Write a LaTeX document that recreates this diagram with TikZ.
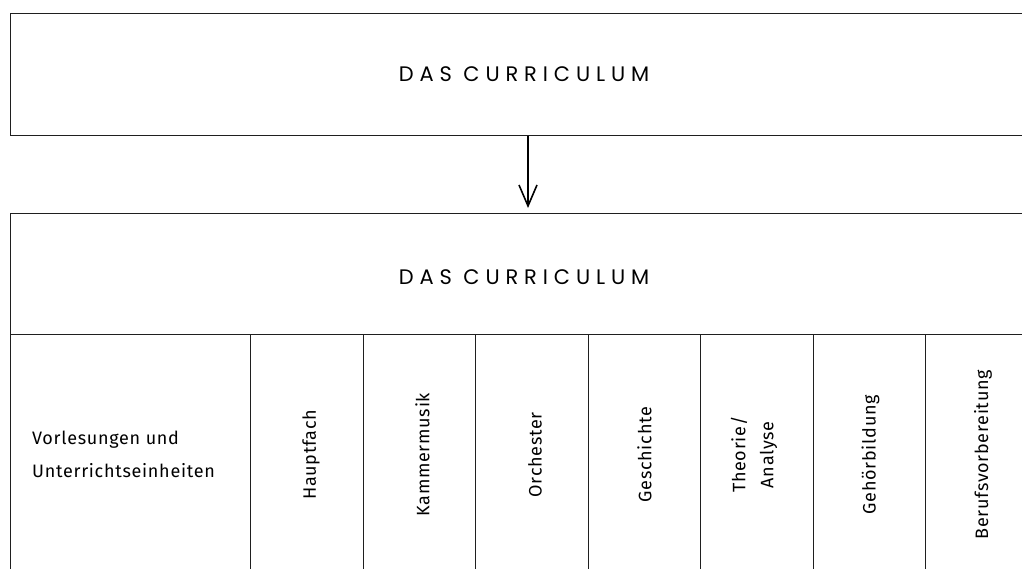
\documentclass[tikz,border=0pt]{standalone}
\usepackage{fontspec}
\usetikzlibrary{arrows.meta,calc}
\newfontfamily\titlefont{Poppins}[LetterSpace=28]
\newfontfamily\bodyfont{Fira Sans}[LetterSpace=4]
\tikzset{
  frame/.style={draw=black!88, line width=1.4pt, rectangle, inner sep=0pt, anchor=north west},
  titletext/.style={font=\titlefont\fontsize{21}{21}\selectfont},
  labeltext/.style={font=\bodyfont\fontsize{18}{18}\selectfont, inner sep=0pt},
  sidetext/.style={font=\bodyfont\fontsize{18}{33}\selectfont, inner sep=0pt, align=left, anchor=west},
  arr/.style={-{Straight Barb[length=21pt,width=18pt,line width=1.6pt]}, line width=1.8pt, draw=black}
}
\begin{document}
\begin{tikzpicture}[x=1pt,y=-1pt]
\useasboundingbox (0,0) rectangle (1022,568);
\clip (0,0) rectangle (1022,568);
% top box
\node[frame, minimum width=1040pt, minimum height=122pt] (top) at (10,13) {};
\node[titletext] (toptitle) at (524,74) {DAS CURRICULUM};
% lower header
\node[frame, minimum width=1040pt, minimum height=121pt] (mid) at (10,213) {};
\node[titletext] (midtitle) at (524,277) {DAS CURRICULUM};
% arrow
\coordinate (ax) at (528,0);
\draw[arr, shorten >=5pt] (top.south -| ax) -- (mid.north -| ax);
% columns
\node[frame, minimum width=240pt, minimum height=240pt] (c0) at (10,334) {};
\node[frame, minimum width=112.5pt, minimum height=240pt] (c1) at (250,334) {};
\node[frame, minimum width=112.5pt, minimum height=240pt] (c2) at (362.5,334) {};
\node[frame, minimum width=112.5pt, minimum height=240pt] (c3) at (475,334) {};
\node[frame, minimum width=112.5pt, minimum height=240pt] (c4) at (587.5,334) {};
\node[frame, minimum width=112.5pt, minimum height=240pt] (c5) at (700,334) {};
\node[frame, minimum width=112.5pt, minimum height=240pt] (c6) at (812.5,334) {};
\node[frame, minimum width=112.5pt, minimum height=240pt] (c7) at (925,334) {};
% labels
\node[sidetext] (l0) at ($(c0.west)+(22,0)$) {Vorlesungen und\\Unterrichtseinheiten};
\node[labeltext, rotate=90] (l1) at ($(c1.center)+(4,0)$) {Hauptfach};
\node[labeltext, rotate=90] (l2) at ($(c2.center)+(3,0)$) {Kammermusik};
\node[labeltext, rotate=90] (l3) at ($(c3.center)+(3,0)$) {Orchester};
\node[labeltext, rotate=90] (l4) at ($(c4.center)+(0,0)$) {Geschichte};
\node[labeltext, rotate=90, align=center] (l5) at ($(c5.center)+(-3,0)$) {Theorie/\\[10pt]Analyse};
\node[labeltext, rotate=90] (l6) at ($(c6.center)+(1,0)$) {Gehörbildung};
\node[labeltext, rotate=90] (l7) at ($(c7.center)+(1,0)$) {Berufsvorbereitung};
\end{tikzpicture}
\end{document}
